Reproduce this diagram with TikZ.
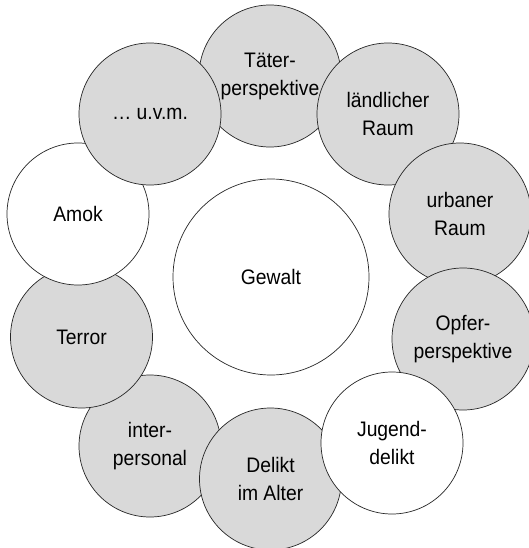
\documentclass[tikz,border=0pt]{standalone}
\usepackage{fontspec}
\setmainfont[FakeStretch=0.92]{Liberation Sans}
\begin{document}
\begin{tikzpicture}[x=1pt,y=-1pt,
  bub/.style={circle,draw=black!85,line width=0.7pt,minimum size=142pt,inner sep=0pt,
    align=center,text=black,font=\fontsize{21}{28}\selectfont},
  grey/.style={bub,fill=gray!30},
  white/.style={bub,fill=white}]
\useasboundingbox (0,0) rectangle (528,548);
\node[white,minimum size=196pt] (gewalt) at (271,277) {Gewalt};
\node[grey] (taeter) at (270,76) {Täter-\\perspektive};
\node[grey] (inter) at (150,446) {inter-\\personal};
\node[grey] (land) at (388,114) {ländlicher\\Raum};
\node[grey] (urban) at (460,214) {urbaner\\Raum};
\node[grey] (opfer) at (463,339) {Opfer-\\perspektive};
\node[grey] (delikt) at (270.5,479) {Delikt\\im Alter};
\node[white] (jugend) at (392,443) {Jugend-\\delikt};
\node[grey] (terror) at (81.5,337) {Terror};
\node[white] (amok) at (78,214) {Amok};
\node[grey] (uvm) at (150,114) {… u.v.m.};
\end{tikzpicture}
\end{document}
